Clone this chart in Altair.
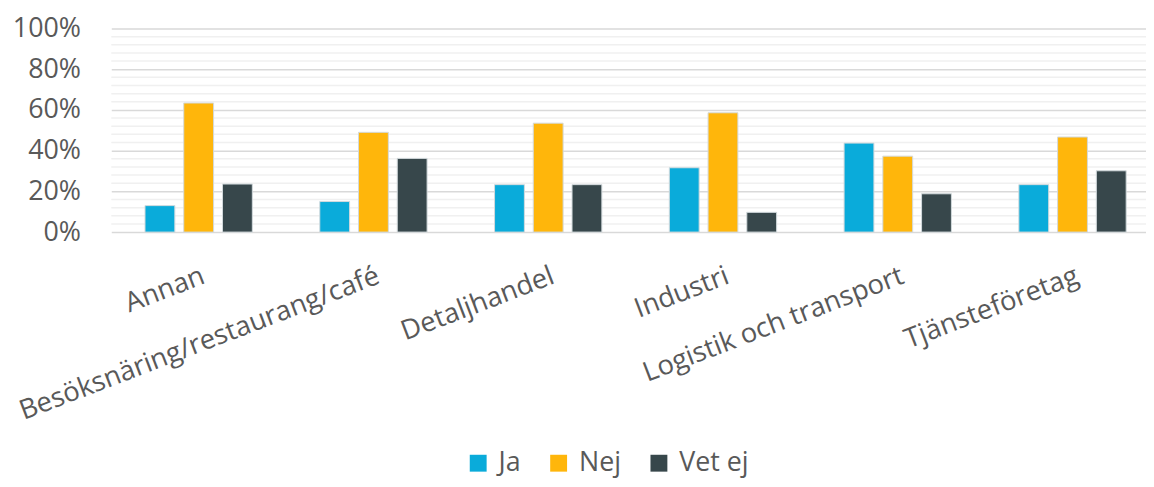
import altair as alt
import pandas as pd

categories = ["Annan", "Besöksnäring/restaurang/café", "Detaljhandel", "Industri",
              "Logistik och transport", "Tjänsteföretag"]
series = ["Ja", "Nej", "Vet ej"]
ja = [0.13, 0.15, 0.233, 0.316, 0.437, 0.233]
nej = [0.634, 0.49, 0.535, 0.586, 0.373, 0.467]
vet_ej = [0.236, 0.362, 0.233, 0.097, 0.188, 0.301]
colors = ["#0AABDA", "#FFB60B", "#37474B"]
major_ticks = [0, 0.2, 0.4, 0.6, 0.8, 1.0]
minor_ticks = [0.04, 0.08, 0.12, 0.16, 0.24, 0.28, 0.32, 0.36, 0.44, 0.48, 0.52, 0.56,
               0.64, 0.68, 0.72, 0.76, 0.84, 0.88, 0.92, 0.96]

rows = []
for name, vals in zip(series, [ja, nej, vet_ej]):
    for c, v in zip(categories, vals):
        rows.append({"cat": c, "series": name, "val": v})
df = pd.DataFrame(rows)
minor_df = pd.DataFrame({"v": minor_ticks})

FONT = "Open Sans"
TXT = "#595959"
yscale = alt.Scale(domain=[0, 1])
yaxis = alt.Axis(title=None, format=".0%", values=major_ticks, ticks=False,
                 domain=False, grid=True, gridColor="#d9d9d9", gridWidth=1.5,
                 labelFont=FONT, labelFontSize=27, labelColor=TXT, labelPadding=31)

rules = alt.Chart(minor_df).mark_rule(color="#f0f0f0", strokeWidth=1.5).encode(
    y=alt.Y("v:Q", scale=yscale, axis=yaxis)
)

bars = alt.Chart(df).mark_bar(stroke="#d3dadd", strokeWidth=1).encode(
    x=alt.X("cat:N", sort=categories,
            scale=alt.Scale(range=[0, 1056], paddingInner=0.386, paddingOuter=0.193),
            axis=alt.Axis(title=None, labelAngle=-21, labelAlign="right", labelBaseline="top",
                          labelPadding=30, ticks=False, domain=False, grid=False,
                          labelFont=FONT, labelFontSize=27.5, labelColor=TXT,
                          labelLimit=600, labelOverlap=False)),
    xOffset=alt.XOffset("series:N", sort=series,
                        scale=alt.Scale(paddingInner=0.23, paddingOuter=0)),
    y=alt.Y("val:Q", scale=yscale, axis=yaxis),
    color=alt.Color("series:N", scale=alt.Scale(domain=series, range=colors),
                    legend=alt.Legend(title=None, orient="none", legendX=356, legendY=424,
                                      direction="horizontal", symbolType="square",
                                      symbolSize=289, symbolStrokeWidth=0,
                                      labelFont=FONT, labelFontSize=27, labelColor=TXT,
                                      labelOffset=7, columnPadding=24, padding=0)),
)

chart = alt.layer(rules, bars).properties(
    width=1042, height=205,
    autosize=alt.AutoSizeParams(type="none"),
    padding={"left": 104, "top": 19, "right": 0, "bottom": 247},
).configure_view(stroke=None)

chart.save("out.html", embed_options={"renderer": "svg", "actions": False})
